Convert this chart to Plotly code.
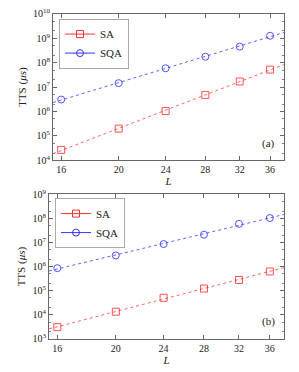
import numpy as np
import plotly.graph_objects as go

L = [16, 20, 24, 28, 32, 36]
sa_a = [2.7e4, 2.0e5, 1.05e6, 4.8e6, 1.7e7, 5.2e7]
sqa_a = [3.1e6, 1.45e7, 5.9e7, 1.75e8, 4.5e8, 1.26e9]
sa_b = [3.1e3, 1.35e4, 5.1e4, 1.23e5, 2.8e5, 6.3e5]
sqa_b = [8.6e5, 2.9e6, 8.6e6, 2.1e7, 5.9e7, 1.03e8]
x_ticks = [16, 20, 24, 28, 32, 36]
y_exp_a = list(range(4, 11))
y_exp_b = list(range(3, 10))

x_lo, x_hi = 15.5, 38.0
RED = "rgb(255,50,50)"
BLUE = "rgb(50,50,255)"
FONT = "Liberation Serif"

fig = go.Figure()

def fit_line(x, y):
    p = np.polyfit(np.log10(x), np.log10(y), 1)
    xs = np.array([x_lo, x_hi])
    return xs, 10 ** np.polyval(p, np.log10(xs))

def add_series(y, name, color, symbol, xa, ya, legend):
    xs, ys = fit_line(L, y)
    fig.add_trace(go.Scatter(x=xs, y=ys, mode="lines", xaxis=xa, yaxis=ya,
                             line=dict(color=color, width=1, dash="3px,3px"),
                             opacity=0.75, showlegend=False, hoverinfo="skip"))
    fig.add_trace(go.Scatter(x=L, y=y, mode="markers", xaxis=xa, yaxis=ya,
                             marker=dict(symbol=symbol, size=7, color=color,
                                         line=dict(color=color, width=1)),
                             opacity=0.85, showlegend=False))
    fig.add_trace(go.Scatter(x=[None], y=[None], mode="lines+markers", name=name,
                             xaxis=xa, yaxis=ya, legend=legend,
                             line=dict(color=color, width=1),
                             marker=dict(symbol=symbol, size=7, color=color,
                                         line=dict(color=color, width=1))))

add_series(sa_a, "SA", RED, "square-open", "x", "y", "legend")
add_series(sqa_a, "SQA", BLUE, "circle-open", "x", "y", "legend")
add_series(sa_b, "SA", RED, "square-open", "x2", "y2", "legend2")
add_series(sqa_b, "SQA", BLUE, "circle-open", "x2", "y2", "legend2")

W, H = 299, 372
axcommon = dict(type="log", showgrid=False, zeroline=False, showline=True,
                linecolor="#666", linewidth=1, mirror="allticks", ticks="inside",
                ticklen=4, tickcolor="#666", tickfont=dict(family=FONT, size=10, color="#222"))

xa = dict(axcommon, range=[np.log10(x_lo), np.log10(x_hi)], tickvals=x_ticks,
          ticktext=[str(v) for v in x_ticks])
fig.update_layout(
    width=W, height=H, margin=dict(l=0, r=0, t=0, b=0),
    paper_bgcolor="white", plot_bgcolor="white",
    font=dict(family=FONT, color="#222"),
    xaxis=dict(xa, domain=[53 / W, 284 / W], anchor="y",
               title=dict(text="<i>L</i>", font=dict(family=FONT, size=11), standoff=0)),
    yaxis=dict(axcommon, domain=[1 - 159 / H, 1 - 7 / H], anchor="x",
               range=[4, 10], tickvals=[10 ** e for e in y_exp_a],
               ticktext=["10<sup>%d</sup>" % e for e in y_exp_a],
               minor=dict(ticks="inside", ticklen=2, tickcolor="#888"),
               title=dict(text="TTS (<i>μs</i>)", font=dict(family=FONT, size=11), standoff=4)),
    xaxis2=dict(xa, domain=[49 / W, 284 / W], anchor="y2",
                title=dict(text="<i>L</i>", font=dict(family=FONT, size=11), standoff=0)),
    yaxis2=dict(axcommon, domain=[1 - 344 / H, 1 - 194 / H], anchor="x2",
                range=[3, 9], tickvals=[10 ** e for e in y_exp_b],
                ticktext=["10<sup>%d</sup>" % e for e in y_exp_b],
                minor=dict(ticks="inside", ticklen=2, tickcolor="#888"),
                title=dict(text="TTS (<i>μs</i>)", font=dict(family=FONT, size=11), standoff=4)),
    legend=dict(x=59 / W, y=1 - 12 / H, xanchor="left", yanchor="top",
                bordercolor="#aaa", borderwidth=1, bgcolor="white",
                font=dict(family=FONT, size=11), tracegroupgap=0, itemwidth=30),
    legend2=dict(x=55 / W, y=1 - 198 / H, xanchor="left", yanchor="top",
                 bordercolor="#aaa", borderwidth=1, bgcolor="white",
                 font=dict(family=FONT, size=11), tracegroupgap=0, itemwidth=30),
    annotations=[
        dict(text="(a)", x=0.97, y=0.06, xref="x domain", yref="y domain",
             xanchor="right", yanchor="bottom", showarrow=False,
             font=dict(family=FONT, size=11, color="#222")),
        dict(text="(b)", x=0.97, y=0.06, xref="x2 domain", yref="y2 domain",
             xanchor="right", yanchor="bottom", showarrow=False,
             font=dict(family=FONT, size=11, color="#222")),
    ],
)

fig.write_html("out.html", config={"displayModeBar": False},
               post_script="document.body.style.margin='0';")
